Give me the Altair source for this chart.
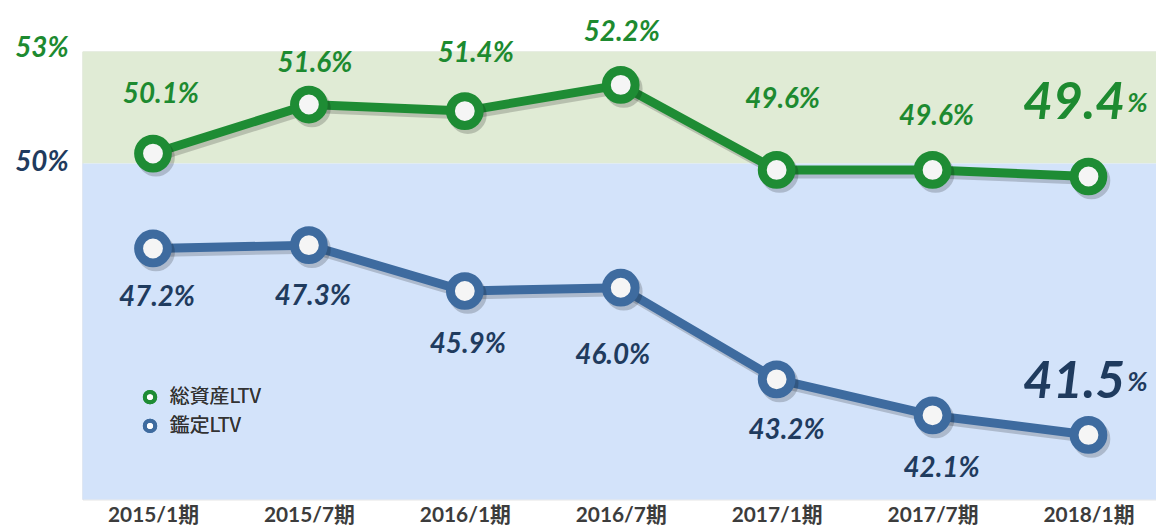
import altair as alt
import pandas as pd

periods = ["2015/1期", "2015/7期", "2016/1期", "2016/7期", "2017/1期", "2017/7期", "2018/1期"]
total_ltv = [50.1, 51.6, 51.4, 52.2, 49.6, 49.6, 49.4]
appraisal_ltv = [47.2, 47.3, 45.9, 46.0, 43.2, 42.1, 41.5]
series_names = ["総資産LTV", "鑑定LTV"]
axis_labels = ["53%", "50%"]
axis_values = [53, 50]

# styling (pixel offsets of the value labels)
total_dx = [8, 6, 11, 1, 6, 4]
total_dy = [-59, -41, -57, -52, -70, -53]
appr_dx = [4, 4, 3, -8, 10, 9]
appr_dy = [50, 52, 54, 69, 52, 54]

GREEN = "#1e8c34"
GREEN_T = "#1d8a30"
BLUE = "#3e6b9f"
NAVY = "#1f3b5e"
FONT = "Lato, 'Noto Sans CJK JP', sans-serif"

rows = []
for i, p in enumerate(periods):
    rows.append({"idx": i, "period": p, "series": series_names[0], "value": total_ltv[i]})
    rows.append({"idx": i, "period": p, "series": series_names[1], "value": appraisal_ltv[i]})
df = pd.DataFrame(rows)
df["label"] = df["value"].map(lambda v: f"{v:.1f}%")
df["num"] = df["value"].map(lambda v: f"{v:.1f}")

ydom = [39.53, 53.22]
bands = pd.DataFrame({"lo": [49.8, ydom[0]], "hi": [ydom[1], 49.8], "c": ["#e0ebd5", "#d3e3fa"]})
axdf = pd.DataFrame({"t": axis_labels, "v": axis_values})

xs = alt.X("period:N", sort=periods,
           scale=alt.Scale(type="point", range=[71, 1013], padding=0),
           axis=alt.Axis(title=None, domain=False, ticks=False, labelAngle=0,
                         labelFont=FONT, labelFontWeight="bold", labelFontSize=21,
                         labelColor="#3c3c3c", labelPadding=5))
yscale = alt.Scale(domain=ydom, nice=False, zero=False)
ys = alt.Y("value:Q", scale=yscale, axis=None)
color = alt.Color("series:N", scale=alt.Scale(domain=series_names, range=[GREEN, BLUE]),
                  legend=alt.Legend(title=None, orient="none", legendX=58, legendY=338,
                                    symbolType="circle", symbolSize=110, symbolStrokeWidth=4,
                                    symbolFillColor="white", labelFont="'Noto Sans CJK JP'",
                                    labelFontSize=20, labelFontWeight="normal",
                                    labelColor="#333333", rowPadding=1,
                                    symbolOffset=0, labelOffset=10))

band_layer = alt.Chart(bands).mark_rect().encode(
    x=alt.value(0), x2=alt.value(1081),
    y=alt.Y("hi:Q", scale=yscale, axis=None),
    y2="lo:Q",
    color=alt.Color("c:N", scale=None, legend=None))

base = alt.Chart(df)
shadow_line = base.mark_line(strokeWidth=9, color="#000", opacity=0.18, xOffset=3, yOffset=4).encode(
    x=xs, y=ys, detail="series:N")
line = base.mark_line(strokeWidth=9).encode(x=xs, y=ys, color=color)
shadow_pt = base.mark_point(shape="circle", size=840, strokeWidth=9, filled=False,
                            color="#000", opacity=0.18, xOffset=3, yOffset=4).encode(x=xs, y=ys)
pts = base.mark_point(shape="circle", size=840, strokeWidth=9, filled=True, opacity=1).encode(
    x=xs, y=ys,
    stroke=alt.Stroke("series:N", scale=alt.Scale(domain=series_names, range=[GREEN, BLUE]), legend=None),
    fill=alt.value("#f5f5f5"))
legend_pts = base.mark_point(shape="circle", size=0, opacity=0).encode(x=xs, y=ys, color=color)

layers = [band_layer, shadow_line, line, shadow_pt, pts]

for i in range(6):
    layers.append(base.transform_filter(f"datum.idx == {i} && datum.series == '{series_names[0]}'")
                  .mark_text(dx=total_dx[i], dy=total_dy[i], font=FONT, fontSize=28, fontWeight="bold",
                             fontStyle="italic", color=GREEN_T)
                  .encode(x=xs, y=ys, text="label:N"))
    layers.append(base.transform_filter(f"datum.idx == {i} && datum.series == '{series_names[1]}'")
                  .mark_text(dx=appr_dx[i], dy=appr_dy[i], font=FONT, fontSize=28, fontWeight="bold",
                             fontStyle="italic", color=NAVY)
                  .encode(x=xs, y=ys, text="label:N"))

# emphasized latest values
for s, col, dy in [(series_names[0], GREEN_T, -74), (series_names[1], NAVY, -53)]:
    f = base.transform_filter(f"datum.idx == 6 && datum.series == '{s}'")
    layers.append(f.mark_text(dx=37, dy=dy, align="right", font=FONT, fontSize=52, fontWeight="bold",
                              fontStyle="italic", color=col).encode(x=xs, y=ys, text="num:N"))
    layers.append(f.mark_text(dx=39, dy=dy + 1, align="left", font=FONT, fontSize=27, fontWeight="bold",
                              fontStyle="italic", color=col).encode(x=xs, y=ys, text=alt.value("%")))

ax53 = alt.Chart(axdf).transform_filter("datum.t == '53%'").mark_text(
    align="right", font=FONT, fontSize=28, fontWeight="bold", fontStyle="italic", dy=-10, color=GREEN_T).encode(
    x=alt.value(-14), y=alt.Y("v:Q", scale=yscale, axis=None), text="t:N")
ax50 = alt.Chart(axdf).transform_filter("datum.t == '50%'").mark_text(
    align="right", font=FONT, fontSize=28, fontWeight="bold", fontStyle="italic", dy=6, color=NAVY).encode(
    x=alt.value(-14), y=alt.Y("v:Q", scale=yscale, axis=None), text="t:N")

layers += [ax53, ax50, legend_pts]

chart = alt.layer(*layers).resolve_scale(color="independent").properties(
    width=1081, height=451,
    autosize=alt.AutoSizeParams(type="none"),
    padding={"left": 75, "top": 42, "right": 0, "bottom": 30},
).configure_view(stroke=None).configure(background="white")

chart.save("out.html", embed_options={"renderer": "svg", "actions": False})
